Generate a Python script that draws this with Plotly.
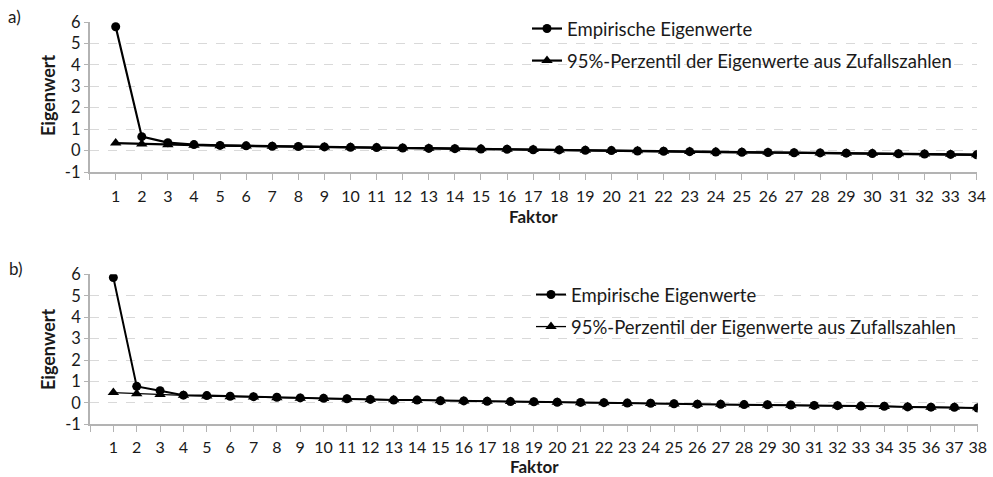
import plotly.graph_objects as go

W, H = 993, 477

# Panel a: 34 factors
faktor_a = list(range(1, 35))
emp_a = [5.78, 0.65, 0.37, 0.28, 0.24, 0.22, 0.20, 0.19, 0.17, 0.15, 0.14, 0.12,
         0.10, 0.09, 0.07, 0.06, 0.04, 0.03, 0.01, 0.00, -0.02, -0.03, -0.05, -0.07,
         -0.08, -0.09, -0.10, -0.11, -0.12, -0.14, -0.15, -0.16, -0.18, -0.20]
rand_a = [0.35, 0.31, 0.27, 0.25, 0.23, 0.21, 0.20, 0.18, 0.17, 0.15, 0.14, 0.12,
          0.11, 0.09, 0.08, 0.06, 0.05, 0.03, 0.02, 0.00, -0.01, -0.03, -0.04, -0.06,
          -0.07, -0.08, -0.10, -0.11, -0.12, -0.13, -0.15, -0.16, -0.17, -0.19]

# Panel b: 38 factors
faktor_b = list(range(1, 39))
emp_b = [5.85, 0.77, 0.57, 0.36, 0.34, 0.31, 0.29, 0.26, 0.23, 0.21, 0.19, 0.16,
         0.13, 0.13, 0.10, 0.09, 0.07, 0.06, 0.05, 0.03, 0.02, 0.01, -0.01, -0.02,
         -0.04, -0.06, -0.07, -0.08, -0.09, -0.10, -0.12, -0.13, -0.15, -0.16,
         -0.19, -0.20, -0.21, -0.24]
rand_b = [0.48, 0.43, 0.39, 0.35, 0.32, 0.29, 0.27, 0.24, 0.22, 0.20, 0.18, 0.16,
          0.14, 0.12, 0.10, 0.09, 0.07, 0.06, 0.04, 0.03, 0.01, 0.00, -0.02, -0.03,
          -0.05, -0.06, -0.07, -0.09, -0.10, -0.11, -0.13, -0.14, -0.15, -0.17,
          -0.18, -0.20, -0.21, -0.23]

name_emp = "Empirische Eigenwerte"
name_rand = "95%-Perzentil der Eigenwerte aus Zufallszahlen"
y_ticks = [-1, 0, 1, 2, 3, 4, 5, 6]
y_labels = ["-1", "0", "1", "2", "3", "4", "5", "6"]

FONT = "Lato, 'Noto Sans', sans-serif"
GRID = "#d9d9d9"
AXIS = "#b3b3b3"
TXT = "#1a1a1a"


def px_x(p):
    return p / W


def px_y(p):
    return 1 - p / H


fig = go.Figure()

# panel a traces
fig.add_trace(go.Scatter(x=faktor_a, y=emp_a, name=name_emp, mode="lines+markers",
                         line=dict(color="black", width=2.2),
                         marker=dict(symbol="circle", size=9, color="black"),
                         xaxis="x", yaxis="y", legend="legend", legendgroup="a1"))
fig.add_trace(go.Scatter(x=faktor_a, y=rand_a, name=name_rand, mode="lines+markers",
                         line=dict(color="black", width=2.2),
                         marker=dict(symbol="triangle-up", size=10, color="black"),
                         xaxis="x", yaxis="y", legend="legend", legendgroup="a2"))

# panel b traces
fig.add_trace(go.Scatter(x=faktor_b, y=emp_b, name=name_emp, mode="lines+markers",
                         line=dict(color="black", width=2),
                         marker=dict(symbol="circle", size=9, color="black"),
                         xaxis="x2", yaxis="y2", legend="legend2", legendgroup="b1"))
fig.add_trace(go.Scatter(x=faktor_b, y=rand_b, name=name_rand, mode="lines+markers",
                         line=dict(color="black", width=1.3),
                         marker=dict(symbol="triangle-up", size=10, color="black"),
                         xaxis="x2", yaxis="y2", legend="legend2", legendgroup="b2"))


def x_axis(n, anchor, dom, standoff):
    cats = list(range(0, n + 1))
    return dict(domain=dom, anchor=anchor, range=[0, n], tickmode="array",
                tickvals=cats, ticktext=[""] + [str(c) for c in cats[1:]],
                showgrid=False, zeroline=False, showline=True, linecolor=AXIS,
                linewidth=1.5, ticks="outside", ticklen=6, tickcolor=AXIS,
                tickwidth=1, tickfont=dict(family=FONT, size=16, color=TXT),
                ticklabelstandoff=standoff, fixedrange=True)


def y_axis(anchor, dom):
    return dict(domain=dom, anchor=anchor, range=[-1, 6], tickmode="array",
                tickvals=y_ticks, ticktext=y_labels, showgrid=True, gridcolor=GRID,
                griddash="dash", gridwidth=1, zeroline=False, showline=True,
                linecolor=AXIS, linewidth=1.5, ticks="outside", ticklen=4,
                tickcolor=AXIS, tickfont=dict(family=FONT, size=16.5, color=TXT),
                ticklabelstandoff=0, fixedrange=True)


legend_common = dict(font=dict(family=FONT, size=18.5, color=TXT),
                     bgcolor="rgba(0,0,0,0)", tracegroupgap=5,
                     xanchor="left", yanchor="top", itemwidth=30)


def note(text, x, y, size, angle=0, anchor="center"):
    return dict(text=text, x=px_x(x), y=px_y(y), xref="paper", yref="paper",
                xanchor=anchor, yanchor="middle", textangle=angle, showarrow=False,
                font=dict(family=FONT, size=size, color=TXT))


annotations = [
    note("a)", 6, 16, 17, anchor="left"),
    note("b)", 7, 268, 17, anchor="left"),
    note("<b>Eigenwert</b>", 48, 95, 18, angle=-90),
    note("<b>Eigenwert</b>", 48, 349, 18, angle=-90),
    note("<b>Faktor</b>", 533, 216, 17),
    note("<b>Faktor</b>", 534, 466, 17),
]

fig.update_layout(
    width=W, height=H, margin=dict(l=0, r=0, t=0, b=0, autoexpand=False),
    paper_bgcolor="white", plot_bgcolor="white",
    xaxis=x_axis(34, "y", [px_x(89.6), px_x(976.7)], 3),
    yaxis=y_axis("x", [px_y(172), px_y(22)]),
    xaxis2=x_axis(38, "y2", [px_x(90), px_x(977.7)], 2),
    yaxis2=y_axis("x2", [px_y(424.3), px_y(274.3)]),
    legend=dict(x=px_x(527), y=px_y(10), **legend_common),
    legend2=dict(x=px_x(531), y=px_y(276), **legend_common),
    annotations=annotations,
    showlegend=True,
)

fig.write_html("out.html")
